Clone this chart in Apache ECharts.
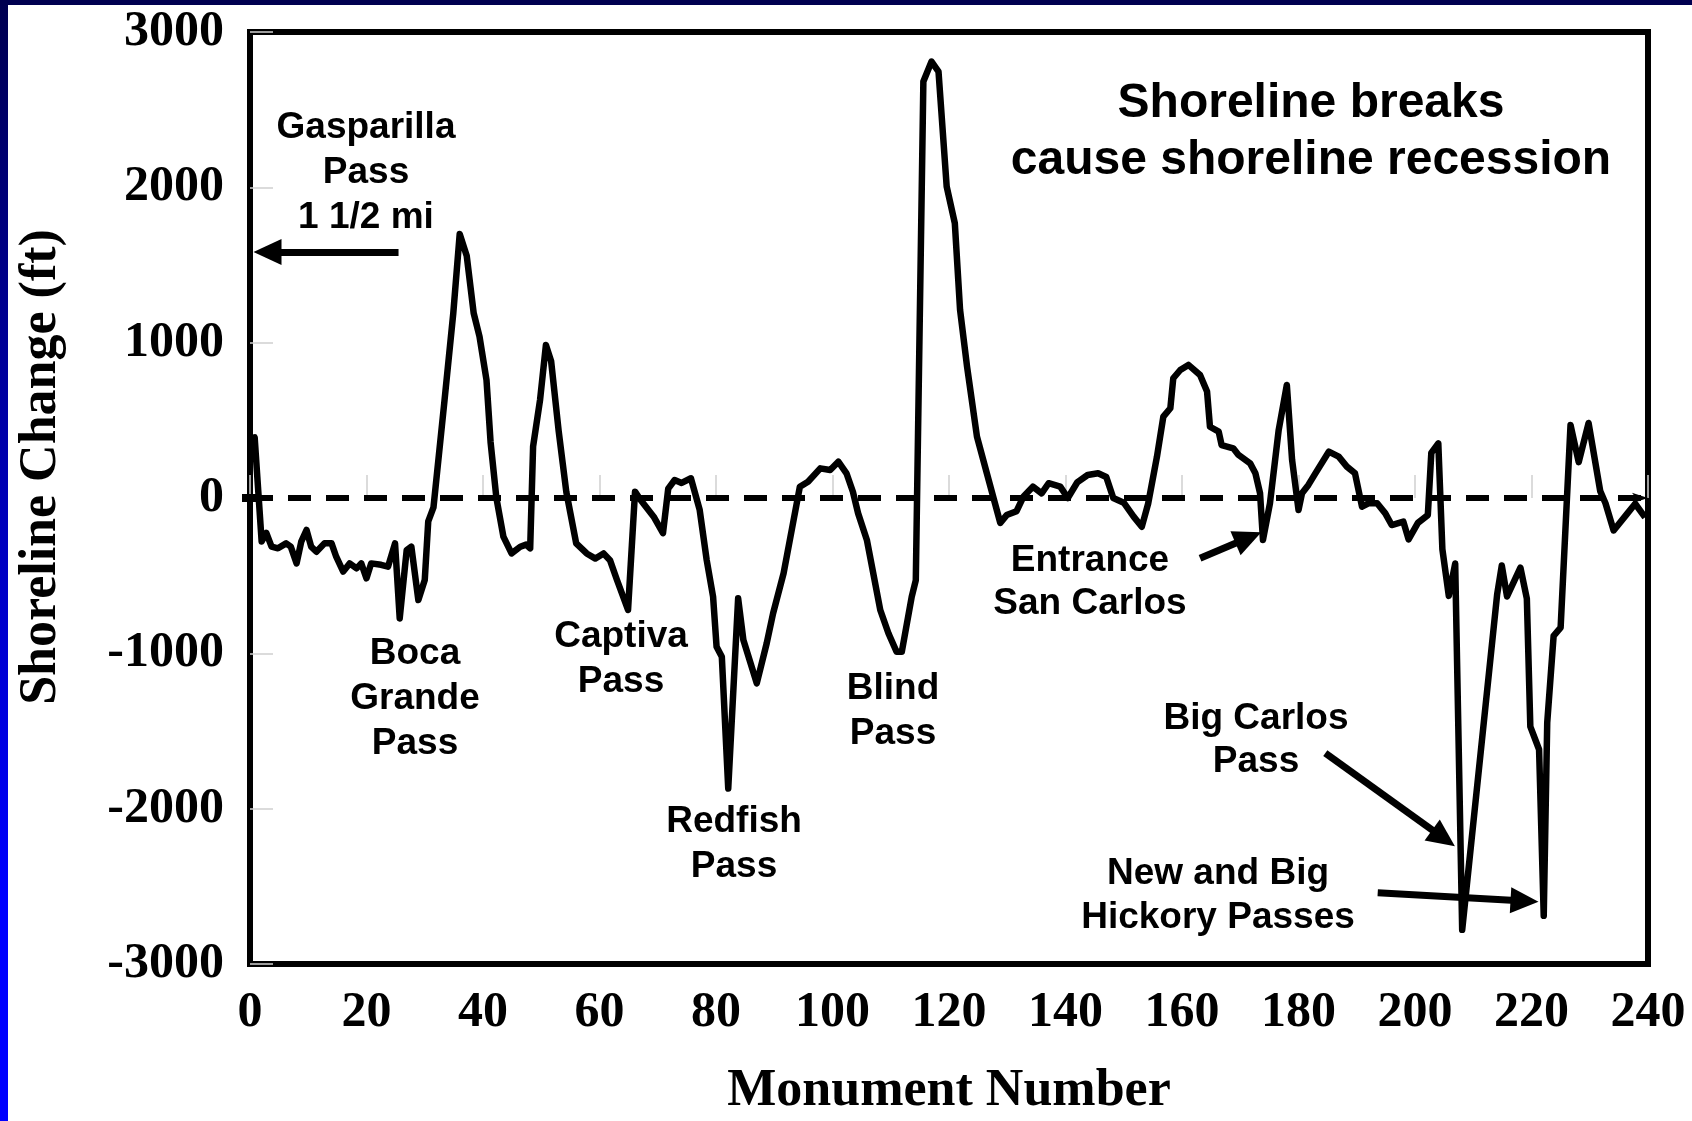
<!DOCTYPE html>
<html>
<head>
<meta charset="utf-8">
<title>Shoreline Change</title>
<script src="https://cdn.jsdelivr.net/npm/echarts@6/dist/echarts.min.js"></script>
<style>
  html, body { margin: 0; padding: 0; background: #fff; }
  #chart { width: 1692px; height: 1121px; }
</style>
</head>
<body>
<div id="chart"></div>
<script>
// monument number / shoreline change (ft)
var monuments = [
  0, 0.8, 2, 2.8, 3.7, 4.8, 6.2, 7, 8, 8.8, 9.7, 10.5, 11.4, 12.8, 14, 14.8, 16, 17.1, 18.3, 19.1,
  20, 20.8, 22.5, 23.7, 24.9, 25.7, 26.9, 27.7, 28.9, 30, 30.6, 31.5, 33.4, 34.9, 36, 37.2, 38.4, 39.4,
  40.6, 41.3, 42.3, 43.5, 44.9, 46.4, 47.4, 48.1, 48.6, 49.8, 50.8, 51.7, 53, 54.3, 56, 57.8, 59.3,
  60.7, 61.8, 63, 64.9, 66.1, 67, 69.3, 70.9, 71.8, 72.9, 74.1, 75.7, 77.2, 78.4, 79.5, 80.1, 81,
  82.1, 83.8, 84.7, 87, 88.7, 89.8, 91.6, 93, 94.4, 95.8, 97.9, 99.6, 101, 102.4, 103.5, 104.4,
  105.9, 107, 108.2, 109.6, 111, 111.9, 113.6, 114.3, 115.6, 117, 118.2, 119.6, 121, 121.9, 123.1,
  124.8, 126.5, 128.8, 129.9, 131.6, 132.8, 134.4, 135.9, 137.1, 139.1, 140.4, 142, 143.8, 145.6,
  147, 148.2, 150, 151.7, 153.1, 154.2, 155.7, 156.8, 158, 158.5, 159.7, 161.1, 163.1, 164.3, 164.8,
  166.3, 166.8, 168.8, 169.7, 171.7, 172.6, 173.4, 173.9, 175.1, 176.6, 178, 178.9, 180, 180.6,
  181.7, 182.9, 185.2, 186.9, 188.3, 189.7, 190.9, 192, 193.5, 194.9, 196, 198, 198.9, 200.5, 202.2,
  202.8, 204, 204.7, 205.8, 206.9, 208.1, 214.1, 214.9, 215.8, 218.1, 219.2, 219.8, 221.3, 222.1,
  222.7, 223.8, 225, 226.7, 228.1, 229.8, 231.8, 232.7, 234.1, 236.4, 237.8, 239.5
];
var change = [
  380, 390, -280, -225, -313, -324, -292, -313, -421, -281, -206, -313, -346, -292, -292, -378, -474, -421, -453, -421,
  -517, -421, -430, -442, -292, -775, -335, -313, -657, -528, -150, -60, 631, 1190, 1700, 1560, 1190, 1040,
  760, 360, 0, -249, -357, -314, -300, -324, 331, 633, 985, 880, 428, 40, -292, -357, -390,
  -357, -400, -528, -721, 41, -10, -120, -226, 60, 116, 97, 127, -77, -399, -636, -957, -1022,
  -1870, -646, -914, -1193, -936, -743, -485, -206, 73, 105, 191, 180, 234, 159, 40, -99,
  -270, -485, -721, -871, -990, -990, -636, -530, 2681, 2810, 2745, 2005, 1769, 1211, 846,
  395, 159, -160, -110, -85, 10, 73, 30, 95, 73, 0, 100, 148, 159,
  135, 0, -30, -120, -185, -34, 266, 524, 578, 771, 824, 857, 792, 685, 459,
  427, 341, 320, 277, 223, 159, 30, -270, -34, 438, 728, 245, -77, 30,
  84, 159, 298, 266, 202, 159, -56, -34, -34, -99, -174, -152, -266, -160, -110,
  290, 352, -330, -630, -422, -2780, -621, -435, -634, -448, -648, -1472, -1619, -2690,
  -1445, -887, -834, 470, 231, 483, 44, -34, -209, -102, -37, -125
];

var xRange = [0, 240, 20];      // min, max, step
var yRange = [-3000, 3000, 1000];

// arrows: [from monument, from ft, to monument, to ft]
var arrows = [
  [25.5, 1584, 3.0, 1584],
  [163.1, -388, 171.4, -256],
  [184.6, -1642, 204.9, -2190],
  [193.6, -2541, 218.8, -2594]
];

(function () {

  var SERIF = "'Liberation Serif', 'Times New Roman', serif";
  var SANS = "'Liberation Sans', Arial, sans-serif";

  function _points(){
    return monuments.map(function(m, i){ return [m, change[i]]; });
  }

  function _arrowLines(){
    var out = [{
      yAxis: 0,
      symbol: ['none', 'none'],
      lineStyle: { type: [23, 15], width: 6, color: '#000' }
    }];
    arrows.forEach(function(a){
      out.push([
        { coord: [a[0], a[1]], symbol: 'none' },
        { coord: [a[2], a[3]], symbol: 'triangle', symbolSize: [26, 28] }
      ]);
    });
    return out;
  }

  function _note(text, x, y, size, lh){
    return {
      type: 'text', x: x, y: y, z: 100,
      style: {
        text: text, fill: '#000',
        font: 'bold ' + size + 'px ' + SANS,
        lineHeight: lh,
        align: 'center', verticalAlign: 'middle',
        textAlign: 'center', textVerticalAlign: 'middle'
      }
    };
  }

  function _plain(v){
    return String(v);
  }

  function _init(){
    var chart = echarts.init(document.getElementById('chart'), null, { renderer: 'canvas' });

    var opt = {
      animation: false,
      backgroundColor: '#fff',
      grid: {
        left: 250, right: 44, top: 32, bottom: 157,
        show: true, borderColor: '#000', borderWidth: 6,
        backgroundColor: 'transparent'
      },
      xAxis: {
        type: 'value', min: xRange[0], max: xRange[1], interval: xRange[2],
        axisLine: { show: false },
        axisTick: { show: true, inside: true, length: 23, lineStyle: { color: '#cfcfcf', width: 1.5 } },
        splitLine: { show: false },
        axisLabel: { margin: 24, color: '#000', fontFamily: SERIF, fontWeight: 'bold', fontSize: 50, formatter: _plain }
      },
      yAxis: {
        type: 'value', min: yRange[0], max: yRange[1], interval: yRange[2],
        axisLine: { show: false },
        axisTick: { show: true, inside: true, length: 23, lineStyle: { color: '#cfcfcf', width: 1.5 } },
        splitLine: { show: false },
        axisLabel: { margin: 26, color: '#000', fontFamily: SERIF, fontWeight: 'bold', fontSize: 50, formatter: _plain }
      },
      series: [{
        type: 'line',
        data: _points(),
        symbol: 'none',
        z: 5,
        lineStyle: { color: '#000', width: 6.5, join: 'round' },
        markLine: {
          silent: true,
          animation: false,
          label: { show: false },
          lineStyle: { color: '#000', width: 7, type: 'solid' },
          itemStyle: { color: '#000' },
          data: _arrowLines()
        }
      }],
      graphic: [
        // slide frame
        { type: 'rect', shape: { x: 0, y: 0, width: 8, height: 1121 }, z: 200,
          style: { fill: { type: 'linear', x: 0, y: 0, x2: 0, y2: 1,
            colorStops: [{ offset: 0, color: '#000050' }, { offset: 0.45, color: '#0000b8' }, { offset: 0.8, color: '#0000ff' }, { offset: 1, color: '#0000ff' }] } } },
        { type: 'rect', shape: { x: 0, y: 0, width: 1692, height: 5 }, z: 200, style: { fill: '#000050' } },

        // axis titles
        { type: 'text', x: 42, y: 467, rotation: Math.PI / 2, z: 100,
          style: { text: 'Shoreline Change (ft)', fill: '#000', font: 'bold 52px ' + SERIF,
            align: 'center', verticalAlign: 'middle', textAlign: 'center', textVerticalAlign: 'middle' } },
        { type: 'text', x: 949, y: 1092, z: 100,
          style: { text: 'Monument Number', fill: '#000', font: 'bold 52px ' + SERIF,
            align: 'center', verticalAlign: 'middle', textAlign: 'center', textVerticalAlign: 'middle' } },

        // notes
        _note('Shoreline breaks\ncause shoreline recession', 1311, 132, 48, 57),
        _note('Gasparilla\nPass\n1 1/2 mi', 366, 173, 37, 45),
        _note('Boca\nGrande\nPass', 415, 699, 37, 45),
        _note('Captiva\nPass', 621, 659, 37, 45),
        _note('Redfish\nPass', 734, 844, 37, 45),
        _note('Blind\nPass', 893, 711, 37, 45),
        _note('Entrance\nSan Carlos', 1090, 582, 37, 43),
        _note('Big Carlos\nPass', 1256, 740, 37, 43),
        _note('New and Big\nHickory Passes', 1218, 896, 37, 44)
      ]
    };
    chart.setOption(opt);
  }

  _init();
})();
</script>
</body>
</html>
